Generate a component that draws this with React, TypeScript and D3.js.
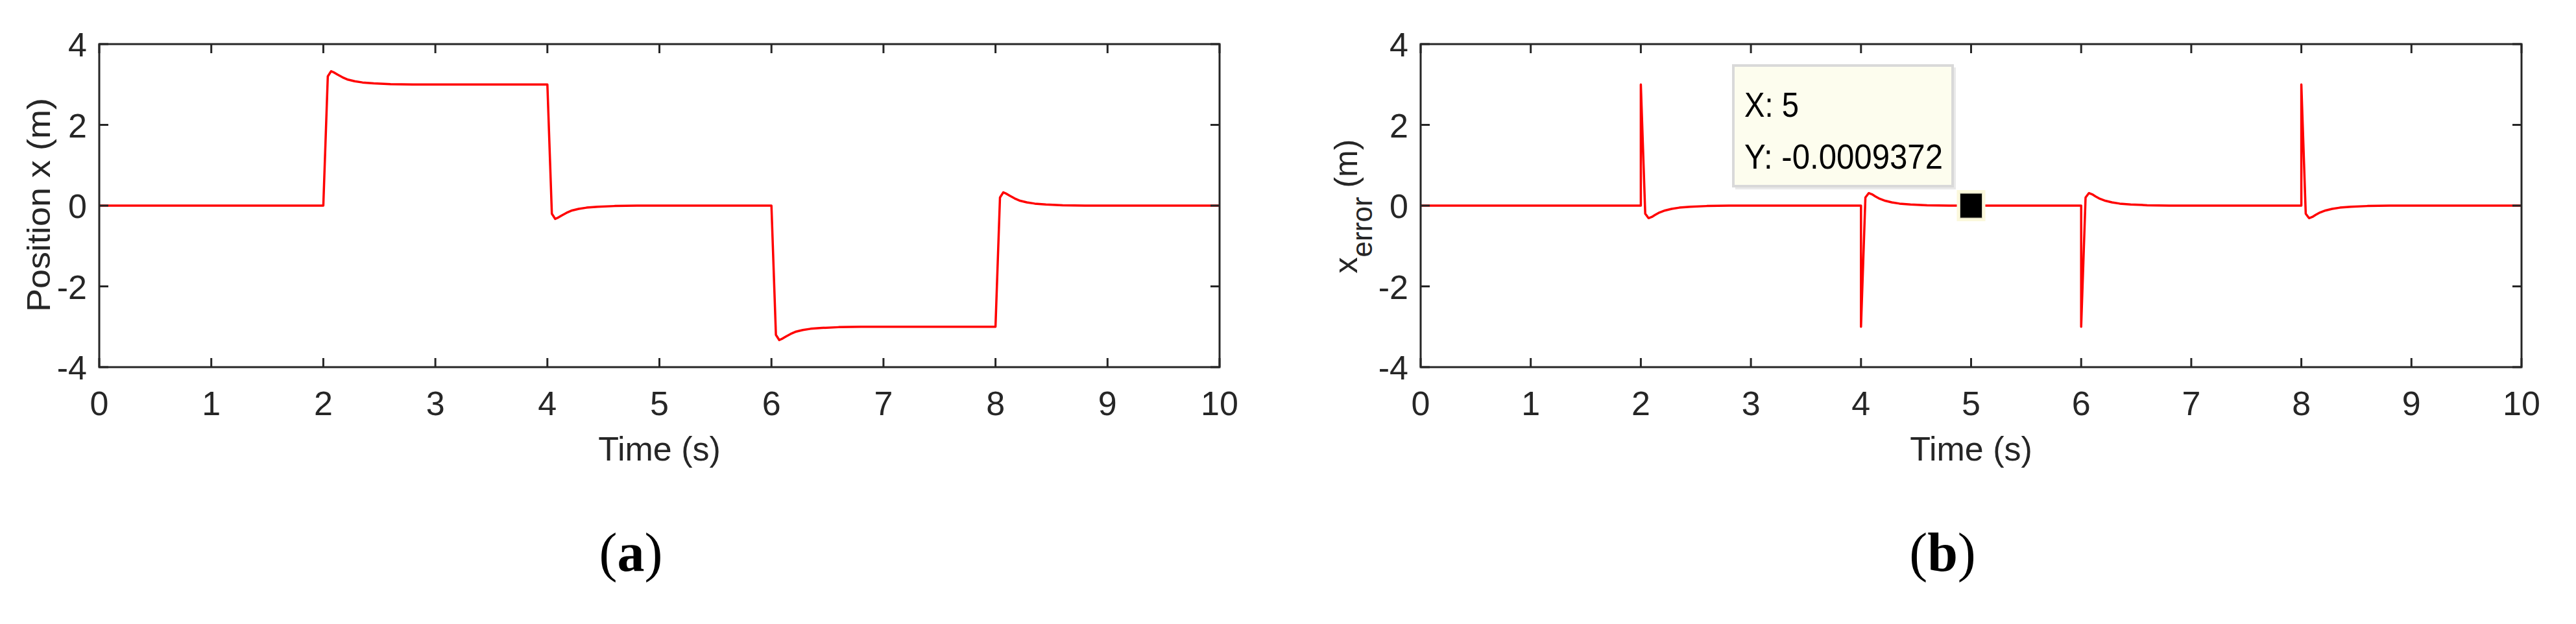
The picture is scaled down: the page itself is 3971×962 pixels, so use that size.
import * as d3 from "d3";

// time axis and value axis ticks
const timeTicks = [0, 1, 2, 3, 4, 5, 6, 7, 8, 9, 10];
const valueTicks = [-4, -2, 0, 2, 4];

// (a) position x (m) over time (s)
const positionTime = [
  0,
  2.0, 2.02, 2.04, 2.07, 2.1, 2.13, 2.17, 2.22, 2.28, 2.35, 2.45, 2.6, 2.8,
  4.0, 4.02, 4.04, 4.07, 4.1, 4.13, 4.17, 4.22, 4.28, 4.35, 4.45, 4.6, 4.8,
  6.0, 6.02, 6.04, 6.07, 6.1, 6.13, 6.17, 6.22, 6.28, 6.35, 6.45, 6.6, 6.8,
  8.0, 8.02, 8.04, 8.07, 8.1, 8.13, 8.17, 8.22, 8.28, 8.35, 8.45, 8.6, 8.8,
  10,
];
const positionValue = [
  0,
  0, 1.6, 3.2, 3.33, 3.29, 3.24, 3.18, 3.12, 3.08, 3.05, 3.03, 3.01, 3.0,
  3.0, 1.4, -0.2, -0.33, -0.29, -0.24, -0.18, -0.12, -0.08, -0.05, -0.03, -0.01, 0,
  0, -1.6, -3.2, -3.33, -3.29, -3.24, -3.18, -3.12, -3.08, -3.05, -3.03, -3.01, -3.0,
  -3.0, -1.4, 0.2, 0.33, 0.29, 0.24, 0.18, 0.12, 0.08, 0.05, 0.03, 0.01, 0,
  0,
];

// (b) position error over time (s)
const errorTime = [
  0,
  2.0, 2.0, 2.02, 2.04, 2.07, 2.1, 2.13, 2.17, 2.22, 2.28, 2.35, 2.45, 2.6, 2.8,
  4.0, 4.0, 4.02, 4.04, 4.07, 4.1, 4.13, 4.17, 4.22, 4.28, 4.35, 4.45, 4.6, 4.8,
  6.0, 6.0, 6.02, 6.04, 6.07, 6.1, 6.13, 6.17, 6.22, 6.28, 6.35, 6.45, 6.6, 6.8,
  8.0, 8.0, 8.02, 8.04, 8.07, 8.1, 8.13, 8.17, 8.22, 8.28, 8.35, 8.45, 8.6, 8.8,
  10,
];
const errorValue = [
  0,
  0, 3.0, 1.4, -0.2, -0.31, -0.28, -0.23, -0.17, -0.12, -0.08, -0.05, -0.03, -0.01, 0,
  0, -3.0, -1.4, 0.2, 0.31, 0.28, 0.23, 0.17, 0.12, 0.08, 0.05, 0.03, 0.01, 0,
  0, -3.0, -1.4, 0.2, 0.31, 0.28, 0.23, 0.17, 0.12, 0.08, 0.05, 0.03, 0.01, 0,
  0, 3.0, 1.4, -0.2, -0.31, -0.28, -0.23, -0.17, -0.12, -0.08, -0.05, -0.03, -0.01, 0,
  0,
];

// data tip on (b)
const tipX = 5;
const tipY = -0.0009372;

const W = 3971;
const H = 962;
const TOP = 68;
const BOTTOM = 566;
const axisColor = "#262626";
const sans = "'Liberation Sans', Arial, Helvetica, sans-serif";
const serif = "'Liberation Serif', 'Times New Roman', serif";

function Panel({ left, right, times, values, caption, yLabel, children }) {
  const x = d3.scaleLinear().domain([0, 10]).range([left, right]);
  const y = d3.scaleLinear().domain([-4, 4]).range([BOTTOM, TOP]);
  const line = d3
    .line<number>()
    .x((_, i) => x(times[i]))
    .y((d) => y(d));
  const mid = (left + right) / 2;
  const tick = 14;

  return (
    <g>
      <path d={line(values) ?? ""} fill="none" stroke="#ff0000" strokeWidth={3.5} strokeLinejoin="round" />
      <rect x={left} y={TOP} width={right - left} height={BOTTOM - TOP} fill="none" stroke={axisColor} strokeWidth={3} />
      {timeTicks.map((t) => (
        <g key={"x" + t}>
          <line x1={x(t)} x2={x(t)} y1={BOTTOM} y2={BOTTOM - tick} stroke={axisColor} strokeWidth={3} />
          <line x1={x(t)} x2={x(t)} y1={TOP} y2={TOP + tick} stroke={axisColor} strokeWidth={3} />
          <text x={x(t)} y={640} textAnchor="middle" fontSize={52} fill={axisColor} fontFamily={sans}>
            {t}
          </text>
        </g>
      ))}
      {valueTicks.map((v) => (
        <g key={"y" + v}>
          <line x1={left} x2={left + tick} y1={y(v)} y2={y(v)} stroke={axisColor} strokeWidth={3} />
          <line x1={right} x2={right - tick} y1={y(v)} y2={y(v)} stroke={axisColor} strokeWidth={3} />
          <text x={left - 19} y={y(v) + 19} textAnchor="end" fontSize={52} fill={axisColor} fontFamily={sans}>
            {v}
          </text>
        </g>
      ))}
      <text x={mid} y={710} textAnchor="middle" fontSize={52} fill={axisColor} fontFamily={sans}>
        Time (s)
      </text>
      {yLabel}
      <text x={mid - 44} y={880} textAnchor="middle" fontSize={84} fill="#000" fontFamily={serif}>
        (<tspan fontWeight="bold">{caption}</tspan>)
      </text>
      {children && children(x, y)}
    </g>
  );
}

export default function App() {
  return (
    <svg width={W} height={H} style={{ position: "absolute", left: 0, top: 0, background: "#fff" }}>
      <rect width={W} height={H} fill="#fff" />
      <Panel
        left={153}
        right={1880}
        times={positionTime}
        values={positionValue}
        caption="a"
        yLabel={
          <text
            transform="translate(77,316) rotate(-90)"
            textAnchor="middle"
            fontSize={50}
            fill={axisColor}
            fontFamily={sans}
            textLength={330}
            lengthAdjust="spacingAndGlyphs"
          >
            Position x (m)
          </text>
        }
      />
      <Panel
        left={2190}
        right={3887}
        times={errorTime}
        values={errorValue}
        caption="b"
        yLabel={
          <text transform="translate(2092,318) rotate(-90)" textAnchor="middle" fontSize={50} fill={axisColor} fontFamily={sans}>
            x
            <tspan dy={23} fontSize={44}>
              error
            </tspan>
            <tspan dy={-23}> (m)</tspan>
          </text>
        }
      >
        {(x, y) => (
          <g>
            <rect x={2675} y={104} width={340} height={188} fill="#e9e9e9" />
            <rect x={2672} y={101} width={338} height={186} fill="#fdfdee" stroke="#d9d9d9" strokeWidth={4} />
            <text x={2689} y={180} fontSize={54} fill="#000" fontFamily={sans} textLength={84} lengthAdjust="spacingAndGlyphs">
              {`X: ${tipX}`}
            </text>
            <text x={2689} y={260} fontSize={54} fill="#000" fontFamily={sans} textLength={306} lengthAdjust="spacingAndGlyphs">
              {`Y: ${tipY}`}
            </text>
            <rect x={x(tipX) - 22} y={y(tipY) - 24} width={44} height={48} fill="#fbf8dc" />
            <rect x={x(tipX) - 17} y={y(tipY) - 19} width={34} height={38} fill="#000" stroke="#cfcfb8" strokeWidth={1} />
          </g>
        )}
      </Panel>
    </svg>
  );
}
